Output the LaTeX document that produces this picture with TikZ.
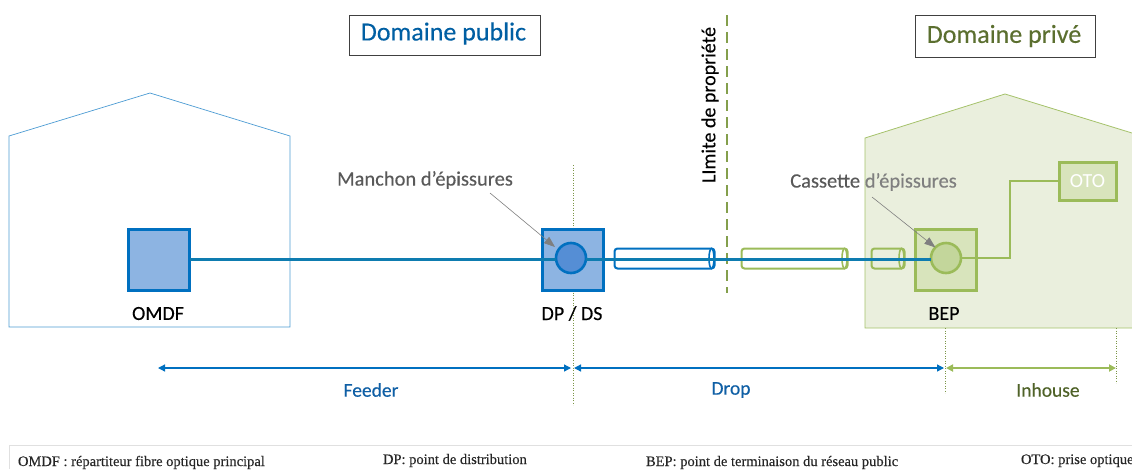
\documentclass[tikz,border=0pt]{standalone}
\usepackage{fontspec}
\setmainfont{Carlito}
\newfontfamily\semib[FakeBold=0.25]{Carlito}
\newfontfamily\footfont[FakeBold=0.3]{Liberation Serif}
\usetikzlibrary{arrows.meta}
\definecolor{pblue}{HTML}{0070C0}
\definecolor{fibre}{HTML}{0E7CB0}
\definecolor{pgreen}{HTML}{9BBB59}
\definecolor{housefill}{HTML}{EAEFDD}
\definecolor{boxgreen}{HTML}{D8E4BC}
\definecolor{circgreen}{HTML}{C3D69B}
\definecolor{boxblue}{HTML}{8DB4E2}
\definecolor{circblue}{HTML}{558ED5}
\definecolor{dgreen}{HTML}{4F6228}
\definecolor{dblue}{HTML}{0F5FA5}
\definecolor{anno}{HTML}{7F7F7F}
\definecolor{annod}{HTML}{595959}
\tikzset{
  x=1pt,y=-1pt,
  lab/.style={inner sep=0pt,outer sep=0pt,font=\semib\fontsize{#1}{#1}\selectfont},
  titlebox/.style={draw=#1,line width=.7pt,fill=white,inner sep=0pt,outer sep=0pt},
  bluebox/.style={draw=pblue,fill=boxblue,line width=3pt,minimum size=61pt,inner sep=0pt,outer sep=0pt},
  greenbox/.style={draw=pgreen,fill=boxgreen,line width=3pt,minimum size=61pt,inner sep=0pt,outer sep=0pt},
  cblue/.style={circle,draw=pblue,fill=circblue,line width=2.6pt,minimum size=30pt,inner sep=0pt,outer sep=0pt},
  cgreen/.style={circle,draw=pgreen,fill=circgreen,line width=2.6pt,minimum size=30pt,inner sep=0pt,outer sep=0pt},
  tube/.style={draw=#1,line width=2pt,rounded corners=3pt,minimum height=20pt,inner sep=0pt,outer sep=0pt},
  fiber/.style={draw=fibre,line width=2.2pt},
  greenfibre/.style={draw=pgreen,line width=2.8pt},
  annoarrow/.style={draw=anno,line width=.6pt,-{Triangle[length=11pt,width=8pt]}},
  limit/.style={draw=pgreen!80!black,line width=.5pt,dotted},
  span/.style={draw=#1,line width=1.3pt,{Triangle[length=7pt,width=7pt]}-{Triangle[length=7pt,width=7pt]}},
  foot/.style={inner sep=0pt,outer sep=0pt,anchor=base west,font=\footfont\fontsize{14.5}{14.5}\selectfont,text=black!85},
}
\begin{document}
\begin{tikzpicture}
\useasboundingbox (0,0) rectangle (1132,469);
% houses
\draw[pblue!70,line width=.7pt] (9,136) -- (150,93) -- (290,136) -- (290,327) -- (9,327) -- cycle;
\fill[housefill] (865,138) -- (1005,94) -- (1132,133) -- (1132,328) -- (865,328) -- cycle;
\draw[pgreen!90,line width=.8pt] (1132,328) -- (865,328) -- (865,138) -- (1005,94) -- (1132,133);
% limit lines
\coordinate (l1a) at (573,165); \coordinate (l1b) at (573,405);
\coordinate (l2a) at (945,328); \coordinate (l2b) at (945,393);
\coordinate (l3a) at (1116,328); \coordinate (l3b) at (1116,383);
\draw[limit] (l1a) -- (l1b);
\draw[limit] (l2a) -- (l2b);
\draw[limit] (l3a) -- (l3b);
% titles
\node[titlebox=black!75,minimum width=191pt,minimum height=40pt] (pub) at (444.5,35) {};
\node[lab=26,text=pblue!85!black] at (443.5,33.5) {Domaine public};
\node[titlebox=black!75,minimum width=180pt,minimum height=42pt] (priv) at (1005,36) {};
\node[lab=26,text=dgreen!85!pgreen] at (1004,36) {Domaine privé};
% property limit
\coordinate (pa) at (727,15); \coordinate (pb) at (727,293);
\draw[draw=pgreen!85!black,line width=1.3pt,dash pattern=on 11pt off 6pt] (pa) -- (pb);
\node[lab=20,rotate=90,text=black] (plim) at (710,105) {LImite de propriété};
% boxes
\node[bluebox] (omdf) at (159,259.5) {};
\node[bluebox] (dp) at (572.5,259.5) {};
\node[greenbox] (bep) at (946,259.5) {};
\node[draw=pgreen,fill=boxgreen,line width=3pt,minimum width=57pt,minimum height=38pt,inner sep=0pt,outer sep=0pt,text=white,font=\fontsize{20}{20}\selectfont] (oto) at (1087.5,181) {OTO};
% tubes
\node[tube=pblue,fill=white,minimum width=100pt] (t1) at (664.5,258.5) {};
\draw[pblue,line width=1.6pt,fill=white] ([xshift=-3pt]t1.east) ellipse (2.5pt and 10pt);
\node[tube=pgreen,fill=white,minimum width=106pt] (t2) at (794.5,258.5) {};
\draw[pgreen,line width=1.6pt,fill=white] ([xshift=-3pt]t2.east) ellipse (2.5pt and 10pt);
\node[tube=pgreen,minimum width=33pt] (t3) at (888,258.5) {};
\draw[pgreen,line width=1.6pt] ([xshift=-3pt]t3.east) ellipse (2.5pt and 10pt);
% splice circles
\node[cblue] (dpc) at (571,258) {};
\node[cgreen] (bepc) at (946,258) {};
% fibres
\draw[fiber] (omdf.east) -- (dpc.west |- omdf.east);
\draw[fiber] (dpc.east |- omdf.east) -- (bepc.west |- omdf.east);
\draw[greenfibre] (bepc.east) -- (1010,258) -- (1010,181) -- (oto.west);
% labels
\node[lab=20] at (158,313.5) {OMDF};
\node[lab=20] at (572,313.5) {DP / DS};
\node[lab=20] at (944,313.5) {BEP};
% annotations
\node[lab=20.5,text=annod] (man) at (425,180) {Manchon d’épissures};
\coordinate (mana) at (490,193);
\draw[annoarrow] (mana) -- (555,247);
\node[lab=20.5,text=anno] (cas) at (873.5,182) {\textcolor{annod}{Cassette} d’épissures};
\coordinate (casa) at (872,197);
\draw[annoarrow] (casa) -- (bepc.north west);
% spans
\coordinate (s1) at (158,368); \coordinate (s2) at (571,368);
\coordinate (s3) at (574,368); \coordinate (s4) at (944,368);
\coordinate (s5) at (946,368); \coordinate (s6) at (1116,368);
\draw[span=pblue] (s1) -- (s2);
\draw[span=pblue] (s3) -- (s4);
\draw[span=pgreen,line width=2pt] (s5) -- (s6);
\node[lab=19.5,text=dblue] at (371,390) {Feeder};
\node[lab=19.5,text=dblue] at (731,390) {Drop};
\node[lab=19.5,text=dgreen] at (1048,390) {Inhouse};
% legend
\draw[black!12,line width=.8pt] (9,469) -- (9,445) -- (1132,445);
\node[foot] at (18,466) {OMDF : répartiteur fibre optique principal};
\node[foot] at (383,464) {DP: point de distribution};
\node[foot] at (646,466) {BEP: point de terminaison du réseau public};
\node[foot] at (1021,464) {OTO: prise optique};
\end{tikzpicture}
\end{document}
